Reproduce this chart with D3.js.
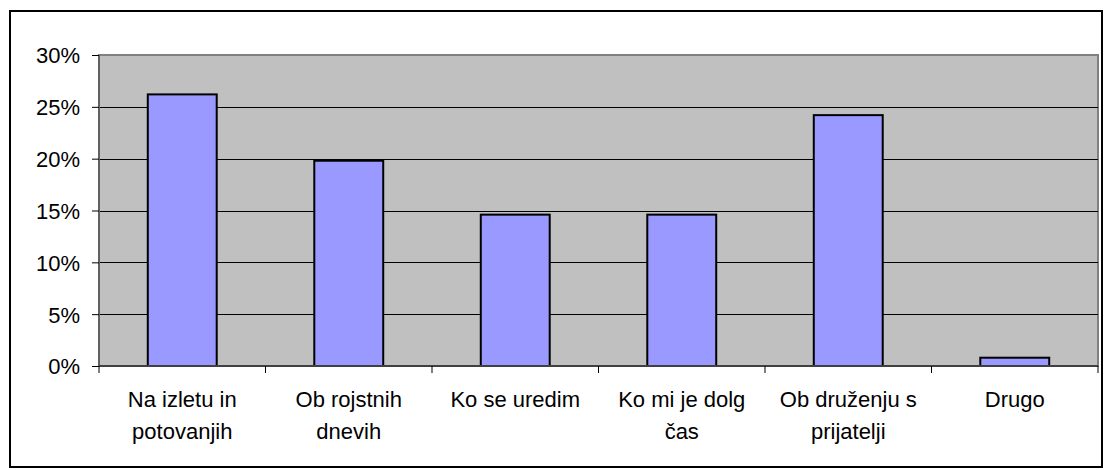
<!DOCTYPE html>
<html>
<head>
<meta charset="utf-8">
<script src="https://cdn.jsdelivr.net/npm/d3@7"></script>
<style>
  body { margin: 0; background: #fff; }
  text { font-family: "Liberation Sans", Arial, sans-serif; }
</style>
</head>
<body>
<svg width="1104" height="470"></svg>
<script>
var svg = d3.select("svg");

// data
var categories = ["Na izletu in\npotovanjih", "Ob rojstnih\ndnevih", "Ko se uredim", "Ko mi je dolg\nčas", "Ob druženju s\nprijatelji", "Drugo"];
var values = [0.262, 0.198, 0.146, 0.146, 0.242, 0.008];
var yTicks = [0, 0.05, 0.10, 0.15, 0.20, 0.25, 0.30];

// plot box (window.top is reserved, so use other names)
var plotL = 99, plotR = 1098, plotT = 55, plotB = 366;

// outer frame
svg.append("rect")
    .attr("x", 10).attr("y", 11)
    .attr("width", 1092).attr("height", 456)
    .attr("fill", "none")
    .attr("stroke", "#000")
    .attr("stroke-width", 2);

var x = d3.scaleBand()
    .domain(categories)
    .range([plotL, plotR])
    .padding(0);

var y = d3.scaleLinear()
    .domain([0, 0.30])
    .range([plotB, plotT]);

// plot area
svg.append("rect")
    .attr("x", plotL).attr("y", plotT)
    .attr("width", plotR - plotL).attr("height", plotB - plotT)
    .attr("fill", "#c0c0c0")
    .attr("stroke", "#808080")
    .attr("stroke-width", 2);

// grid lines
svg.append("g")
    .selectAll("line")
    .data(yTicks.filter(function(d) { return d > 0 && d < 0.30; }))
    .enter()
    .append("line")
    .attr("x1", plotL).attr("x2", plotR)
    .attr("y1", function(d) { return Math.round(y(d)) + 0.5; })
    .attr("y2", function(d) { return Math.round(y(d)) + 0.5; })
    .attr("stroke", "#000")
    .attr("stroke-width", 1);

// bars
var barW = x.bandwidth() * 0.414;
svg.append("g")
    .selectAll("rect")
    .data(values)
    .enter()
    .append("rect")
    .attr("x", function(d, i) { return x(categories[i]) + (x.bandwidth() - barW) / 2; })
    .attr("y", function(d) { return y(d); })
    .attr("width", barW)
    .attr("height", function(d) { return plotB - y(d); })
    .attr("fill", "#9999ff")
    .attr("stroke", "#000")
    .attr("stroke-width", 2);

// axis lines
svg.append("line")
    .attr("x1", plotL).attr("x2", plotL)
    .attr("y1", plotT).attr("y2", plotB)
    .attr("stroke", "#606060").attr("stroke-width", 2);
svg.append("line")
    .attr("x1", plotL).attr("x2", plotR)
    .attr("y1", plotB).attr("y2", plotB)
    .attr("stroke", "#404040").attr("stroke-width", 2);

// y axis
var yAxis = svg.append("g")
    .attr("transform", "translate(" + plotL + ",0)")
    .call(d3.axisLeft(y).tickValues(yTicks).tickFormat(d3.format(".0%")).tickSize(7).tickPadding(12));
yAxis.select(".domain").remove();
yAxis.selectAll(".tick line").attr("stroke", "#000");
yAxis.selectAll("text")
    .attr("fill", "#000")
    .style("font-size", "22px")
    .attr("dy", "0.36em");

// category ticks at band boundaries
var bounds = categories.map(function(c) { return x(c); }).concat([plotR]);
svg.append("g")
    .selectAll("line")
    .data(bounds)
    .enter()
    .append("line")
    .attr("x1", function(d) { return d; })
    .attr("x2", function(d) { return d; })
    .attr("y1", plotB).attr("y2", plotB + 7)
    .attr("stroke", "#000");

// category labels
var lab = svg.append("g")
    .selectAll("text")
    .data(categories)
    .enter()
    .append("text")
    .attr("text-anchor", "middle")
    .style("font-size", "22px")
    .attr("fill", "#000");

lab.selectAll("tspan")
    .data(function(d) { return d.split("\n").map(function(s) { return { s: s, c: d }; }); })
    .enter()
    .append("tspan")
    .attr("x", function(d) { return x(d.c) + x.bandwidth() / 2; })
    .attr("y", function(d, i) { return 407 + i * 32; })
    .text(function(d) { return d.s; });
</script>
</body>
</html>
